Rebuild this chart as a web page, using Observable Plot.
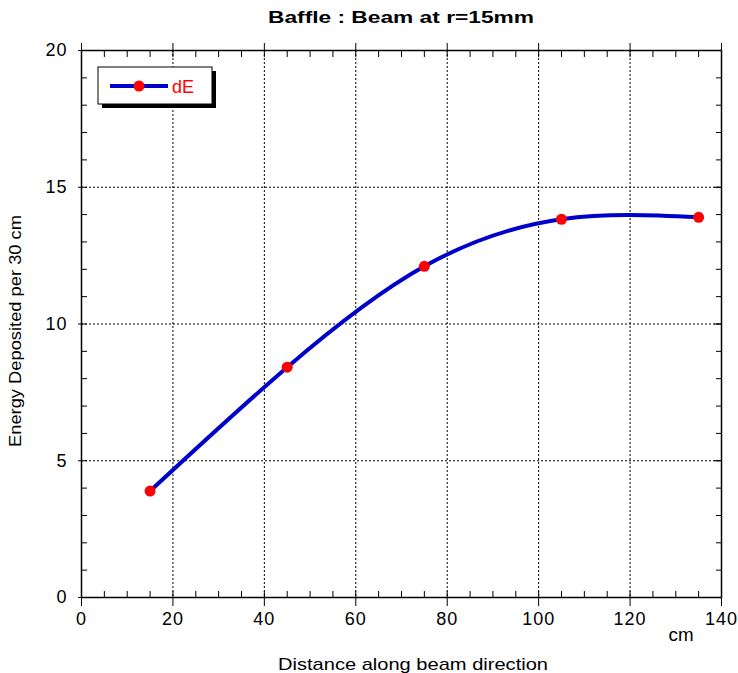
<!DOCTYPE html>
<html><head><meta charset="utf-8">
<script src="https://cdn.jsdelivr.net/npm/d3@7"></script>
<script src="https://cdn.jsdelivr.net/npm/@observablehq/plot@0.6"></script>
<style>
body{margin:0;background:#fff}
#chart{position:relative;width:738px;height:673px}
#chart svg text{font-family:"Liberation Sans",Arial,Helvetica,sans-serif}
#chart g[aria-label="x-axis tick label"] text,#chart g[aria-label="y-axis tick label"] text{letter-spacing:1px}
</style>
</head><body><div id="chart"></div>
<script>
// Data
const distance = [15, 45, 75, 105, 135];
const energy = [3.89, 8.42, 12.11, 13.83, 13.90];
const seriesName = "dE";
// Ticks
const xMajor = [0, 20, 40, 60, 80, 100, 120, 140];
const xMinor = [0,5,10,15,20,25,30,35,40,45,50,55,60,65,70,75,80,85,90,95,100,105,110,115,120,125,130,135,140];
const xGrid = [20, 40, 60, 80, 100, 120];
const yMajor = [0, 5, 10, 15, 20];
const yMinor = [0,1,2,3,4,5,6,7,8,9,10,11,12,13,14,15,16,17,18,19,20];
const yGrid = [5, 10, 15];
// Texts
const titleText = "Baffle : Beam at r=15mm";
const xLabel = "Distance along beam direction";
const yLabel = "Energy Deposited per 30 cm";
const xUnit = "cm";

const points = distance.map((d, i) => ({x: d, y: energy[i]}));
const blue = "#0000cc", red = "#ff0000";
const none = () => "";

const plot = Plot.plot({
  width: 738, height: 673,
  marginTop: 50, marginRight: 17, marginBottom: 76, marginLeft: 81,
  x: {domain: [0, 140]},
  y: {domain: [0, 20]},
  style: {background: "#fff", color: "#000", fontSize: "18px"},
  marks: [
    Plot.ruleX(xGrid, {stroke: "#000", strokeWidth: 1, strokeDasharray: "2,2"}),
    Plot.ruleY(yGrid, {stroke: "#000", strokeWidth: 1, strokeDasharray: "2,2"}),
    // bottom
    Plot.axisX(xMinor, {anchor: "bottom", tickSize: -6, tickFormat: none, label: null}),
    Plot.axisX(xMajor, {anchor: "bottom", tickSize: 9, tickPadding: 6, fontSize: 18, label: null}),
    // top
    Plot.axisX(xMinor, {anchor: "top", tickSize: -6, tickFormat: none, label: null}),
    Plot.axisX(xMajor, {anchor: "top", tickSize: 8, tickFormat: none, label: null}),
    // left
    Plot.axisY(yMinor, {anchor: "left", tickSize: -6, tickFormat: none, label: null}),
    Plot.axisY(yMajor, {anchor: "left", tickSize: 3, tickPadding: 11, fontSize: 18, label: null}),
    // right
    Plot.axisY(yMinor, {anchor: "right", tickSize: -6, tickFormat: none, label: null}),
    Plot.axisY(yMajor, {anchor: "right", tickSize: -8, tickFormat: none, label: null}),
    Plot.frame({stroke: "#000", strokeWidth: 1.5}),
    Plot.line(points, {x: "x", y: "y", curve: "natural", stroke: blue, strokeWidth: 4}),
    Plot.dot(points, {x: "x", y: "y", r: 5.5, fill: red, stroke: "none"})
  ]
});
document.getElementById("chart").appendChild(plot);

const svg = d3.select(plot);
const font = '"Liberation Sans",Arial,Helvetica,sans-serif';
svg.append("text").text(titleText)
  .attr("x", 401).attr("y", 23).attr("text-anchor", "middle")
  .attr("font-weight", "bold").attr("font-size", 17).attr("font-family", font)
  .attr("textLength", 266).attr("lengthAdjust", "spacingAndGlyphs");
svg.append("text").text(xLabel)
  .attr("x", 413).attr("y", 670).attr("text-anchor", "middle")
  .attr("font-size", 17).attr("font-family", font)
  .attr("textLength", 270).attr("lengthAdjust", "spacingAndGlyphs");
svg.append("text").text(yLabel)
  .attr("transform", "translate(20.5,331) rotate(-90)").attr("text-anchor", "middle")
  .attr("font-size", 17).attr("font-family", font)
  .attr("textLength", 232).attr("lengthAdjust", "spacingAndGlyphs");
svg.append("text").text(xUnit)
  .attr("x", 681).attr("y", 641).attr("text-anchor", "middle")
  .attr("font-size", 18).attr("font-family", font)
  .attr("textLength", 25).attr("lengthAdjust", "spacingAndGlyphs");

// Legend
const lg = svg.append("g");
lg.append("rect").attr("x", 102).attr("y", 71).attr("width", 114).attr("height", 37).attr("fill", "#000");
lg.append("rect").attr("x", 98).attr("y", 67).attr("width", 114).attr("height", 37).attr("fill", "#fff").attr("stroke", "#000").attr("stroke-width", 1);
lg.append("line").attr("x1", 110).attr("x2", 168).attr("y1", 86).attr("y2", 86).attr("stroke", blue).attr("stroke-width", 4);
lg.append("circle").attr("cx", 139).attr("cy", 86).attr("r", 5.5).attr("fill", red);
lg.append("text").text(seriesName).attr("x", 172).attr("y", 92.5).attr("fill", red)
  .attr("text-anchor", "start")
  .attr("font-size", 18).attr("font-family", font)
  .attr("textLength", 22).attr("lengthAdjust", "spacingAndGlyphs");
</script>
</body></html>
